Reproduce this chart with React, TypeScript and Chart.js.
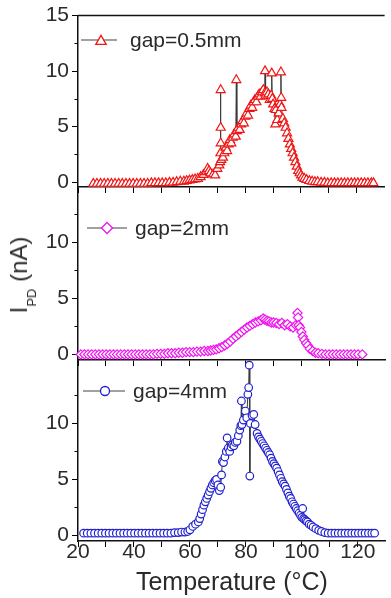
import React, { useEffect, useRef } from 'react';
import { Chart, registerables } from 'chart.js';

Chart.register(...registerables);

const FONT = "'Liberation Sans', Arial, sans-serif";
const TEXT = '#2a2a2a';

// axis ticks
const xTicks = [20, 30, 40, 50, 60, 70, 80, 90, 100, 110, 120];
const xLabels = [20, 40, 60, 80, 100, 120];
const yTicksTop = [0, 5, 10, 15];
const yTicksLower = [0, 5, 10];
const yMinorTicks = [2.5, 7.5, 12.5];

// gap = 0.5 mm (red triangles)
const gap05Temp = [
  25.5, 26.8, 28.1, 29.4, 30.7, 32, 33.3, 34.6, 35.9, 37.2,
  38.5, 39.8, 41.1, 42.4, 43.7, 45, 46.3, 47.6, 48.9, 50.2,
  51.5, 52.8, 54.1, 55.4, 56.7, 58, 59, 60, 61, 62,
  63, 64, 65, 66, 66.5, 67, 67.5, 68.5, 69.2, 70,
  70.7, 71, 71.1, 71.2, 71.2, 71.2, 71.4, 72, 72.5, 73,
  73.5, 74, 74.5, 75, 75.5, 76, 76.6, 76.8, 77, 77.5,
  78, 78.5, 79, 79.5, 80, 80.5, 81, 81.5, 82, 82.5,
  83, 83.5, 84, 84.5, 85, 85.5, 86, 86.5, 87, 87.1,
  87.3, 87.8, 88.3, 88.8, 89.3, 89.5, 89.7, 90, 90.5, 90.8,
  91, 91.5, 92, 92.5, 92.8, 92.9, 93, 93.5, 94, 94.5,
  95, 95.5, 96, 96.5, 97, 97.5, 98, 98.5, 99, 99.5,
  100, 100.5, 101.2, 102, 103, 104, 105, 106, 107.2, 108.4,
  109.6, 110.8, 112, 113.2, 114.4, 115.6, 116.8, 118, 119.2, 120.4,
  121.6, 122.8, 124, 125.2, 126,
];
const gap05Current = [
  -0.15, -0.15, -0.15, -0.15, -0.15, -0.15, -0.15, -0.15, -0.15, -0.15,
  -0.15, -0.15, -0.15, -0.15, -0.15, -0.15, -0.1, -0.1, -0.1, -0.1,
  -0.1, -0.05, -0.05, 0, 0.05, 0.05, 0.1, 0.15, 0.2, 0.25,
  0.3, 0.45, 0.65, 0.9, 1.2, 1.0, 0.8, 0.7, 0.6, 1.2,
  1.5, 1.8, 2.6, 8.3, 4.9, 3.5, 2.0, 2.2, 2.6, 3.1,
  2.8, 3.4, 3.8, 3.5, 4.0, 4.3, 4.1, 9.2, 4.6, 4.9,
  4.7, 5.2, 5.5, 5.3, 5.9, 6.2, 6.0, 6.6, 6.9, 6.7,
  7.2, 7.4, 7.2, 7.7, 7.9, 7.7, 8.1, 8.3, 8.0, 10.0,
  7.8, 8.1, 7.9, 7.4, 7.8, 9.8, 7.5, 7.0, 6.6, 5.2,
  6.5, 5.6, 6.2, 7.0, 9.9, 7.6, 6.7, 5.7, 5.3, 4.9,
  4.4, 3.9, 3.4, 3.0, 2.6, 2.2, 1.8, 1.4, 1.0, 0.8,
  0.6, 0.4, 0.3, 0.2, 0.1, 0.05, 0, 0, -0.05, -0.05,
  -0.1, -0.1, -0.1, -0.1, -0.1, -0.1, -0.1, -0.1, -0.1, -0.1,
  -0.1, -0.1, -0.1, -0.1, -0.1,
];

// gap = 2 mm (magenta diamonds)
const gap2Temp = [
  21, 22.3, 23.6, 24.9, 26.2, 27.5, 28.8, 30.1, 31.4, 32.7,
  34, 35.3, 36.6, 37.9, 39.2, 40.5, 41.8, 43.1, 44.4, 45.7,
  47, 48.3, 49.6, 50.9, 52.2, 53.5, 54.8, 56.1, 57.4, 58.7,
  60, 61.3, 62.6, 63.9, 65.2, 66.5, 67.5, 68.5, 69.5, 70.5,
  71.5, 72.5, 73.5, 74.5, 75.5, 76.5, 77.5, 78.5, 79.5, 80.5,
  81.5, 82.5, 83.5, 84.5, 85.5, 86.3, 87, 87.7, 88.4, 89.2,
  90, 91, 92, 93, 94, 95, 96, 97, 98, 98.6,
  98.8, 99, 99.5, 100, 100.5, 101, 101.7, 102.3, 103, 104,
  105, 106, 107.3, 108.6, 109.9, 111.2, 112.5, 113.8, 115.1, 116.4,
  117.7, 119, 120.3, 121.8,
];
const gap2Current = [
  0, 0, 0, 0, 0, 0, 0, 0, 0, 0,
  0, 0, 0, 0, 0, 0, 0, 0, 0, 0,
  0, 0.05, 0.05, 0.05, 0.1, 0.1, 0.1, 0.15, 0.15, 0.2,
  0.2, 0.2, 0.25, 0.25, 0.3, 0.3, 0.35, 0.4, 0.45, 0.55,
  0.65, 0.8, 0.95, 1.15, 1.4, 1.6, 1.8, 2.0, 2.2, 2.4,
  2.55, 2.7, 2.85, 2.95, 3.05, 3.2, 3.1, 3.0, 2.95, 2.85,
  2.85, 2.8, 2.7, 2.8, 2.6, 2.7, 2.5, 2.4, 2.6, 3.7,
  3.3, 2.6, 2.4, 2.0, 1.6, 1.3, 1.0, 0.8, 0.5, 0.3,
  0.15, 0.1, 0.05, 0, 0, 0, 0, 0, 0, 0,
  0, 0, 0, 0,
];

// gap = 4 mm (blue circles)
const gap4Temp = [
  22, 23.3, 24.6, 25.9, 27.2, 28.5, 29.8, 31.1, 32.4, 33.7,
  35, 36.3, 37.6, 38.9, 40.2, 41.5, 42.8, 44.1, 45.4, 46.7,
  48, 49.3, 50.6, 51.9, 53.2, 54.5, 55.8, 57, 58.2, 59.2,
  60, 61, 62, 63, 63.5, 64, 64.5, 65, 65.5, 66,
  66.5, 67, 67.5, 68, 68.5, 69, 69.5, 70, 70.5, 71,
  71.3, 71.6, 72, 72.5, 73, 73.3, 73.7, 74.2, 74.7, 75.2,
  75.7, 76.2, 76.8, 77.3, 77.8, 78.2, 78.4, 78.6, 79.1, 79.8,
  80.3, 80.7, 81, 81.2, 81.4, 81.6, 82.2, 82.8, 83.3, 84,
  84.5, 85, 85.5, 86, 86.5, 87, 87.5, 88, 88.5, 89,
  89.5, 90, 90.5, 91, 91.5, 92, 92.5, 93, 93.5, 94,
  94.5, 95, 95.5, 96, 96.5, 97, 97.5, 98, 98.5, 99,
  99.5, 100, 100.3, 100.6, 101, 101.5, 102, 102.6, 103.3, 104,
  105, 106, 107, 108.2, 109.4, 110.6, 111.8, 113, 114.2, 115.4,
  116.6, 117.8, 119, 120.2, 121.4, 122.6, 123.8, 125, 126,
];
const gap4Current = [
  0.2, 0.2, 0.2, 0.2, 0.2, 0.2, 0.2, 0.2, 0.2, 0.2,
  0.2, 0.2, 0.2, 0.2, 0.2, 0.2, 0.2, 0.2, 0.2, 0.2,
  0.2, 0.2, 0.2, 0.2, 0.2, 0.25, 0.25, 0.3, 0.3, 0.35,
  0.5, 0.8, 1.0, 1.2, 1.5, 1.9, 2.3, 2.7, 3.0, 3.3,
  3.6, 3.9, 4.2, 4.5, 4.7, 4.9, 5.0, 4.5, 4.0, 4.3,
  5.4, 6.6, 6.5, 7.0, 7.5, 8.7, 7.8, 7.5, 7.9, 8.1,
  8.0, 8.3, 8.4, 8.9, 9.4, 9.8, 12.0, 9.9, 10.3, 11.1,
  10.5, 12.6, 13.2, 15.2, 5.3, 10.0, 10.7, 10.8, 9.9, 9.1,
  8.8, 8.6, 8.4, 8.2, 8.0, 7.8, 7.6, 7.4, 7.2, 6.9,
  6.6, 6.4, 6.2, 6.0, 5.7, 5.4, 5.1, 4.8, 4.6, 4.4,
  4.1, 3.8, 3.5, 3.3, 3.0, 2.8, 2.6, 2.4, 2.2, 2.0,
  1.8, 1.6, 2.4, 1.5, 1.4, 1.3, 1.2, 1.0, 0.9, 0.75,
  0.6, 0.45, 0.35, 0.25, 0.2, 0.2, 0.2, 0.2, 0.2, 0.2,
  0.2, 0.2, 0.2, 0.2, 0.2, 0.2, 0.2, 0.2, 0.2,
];

function drawMarker(ctx: CanvasRenderingContext2D, style: string, x: number, y: number, r: number) {
  ctx.beginPath();
  if (style === 'triangle') {
    ctx.moveTo(x, y - r);
    ctx.lineTo(x + 0.866 * r, y + 0.5 * r);
    ctx.lineTo(x - 0.866 * r, y + 0.5 * r);
    ctx.closePath();
  } else if (style === 'rectRot') {
    ctx.moveTo(x - r, y);
    ctx.lineTo(x, y - r);
    ctx.lineTo(x + r, y);
    ctx.lineTo(x, y + r);
    ctx.closePath();
  } else {
    ctx.arc(x, y, r, 0, Math.PI * 2);
  }
  ctx.fill();
  ctx.stroke();
}

const decorPlugin = {
  id: 'decor',
  afterDraw(chart: any, _args: any, o: any) {
    const { ctx, chartArea, scales } = chart;
    ctx.save();
    ctx.strokeStyle = '#000';
    ctx.lineWidth = 1;
    for (const v of yMinorTicks) {
      const y = Math.round(scales.y.getPixelForValue(v)) + 0.5;
      if (y < chartArea.top || y > chartArea.bottom) continue;
      ctx.beginPath();
      ctx.moveTo(chartArea.left - 3.5, y);
      ctx.lineTo(chartArea.left, y);
      ctx.stroke();
    }
    if (o.topBorder) {
      ctx.lineWidth = 1.5;
      ctx.strokeStyle = '#111';
      ctx.beginPath();
      ctx.moveTo(chartArea.left, chartArea.top);
      ctx.lineTo(chartArea.right, chartArea.top);
      ctx.stroke();
    }
    const lg = o.legend;
    if (lg) {
      ctx.strokeStyle = '#444';
      ctx.lineWidth = 1.2;
      ctx.beginPath();
      ctx.moveTo(lg.x0, lg.y);
      ctx.lineTo(lg.x1, lg.y);
      ctx.stroke();
      ctx.strokeStyle = lg.color;
      ctx.fillStyle = '#fff';
      ctx.lineWidth = 1.3;
      drawMarker(ctx, lg.style, lg.mx, lg.style === 'triangle' ? lg.y + 1.4 : lg.y, lg.r);
      ctx.fillStyle = TEXT;
      ctx.font = `21px ${FONT}`;
      ctx.textBaseline = 'middle';
      ctx.textAlign = 'left';
      ctx.fillText(lg.text, lg.tx, lg.y + 1);
    }
    ctx.restore();
  },
};

interface PanelDef {
  temp: number[];
  current: number[];
  color: string;
  style: string;
  radius: number;
  padTop: number;
  padBottom: number;
  xHeight: number;
  yMin: number;
  yMax: number;
  yTicks: number[];
  showXLabels: boolean;
  topBorder: boolean;
  legend: any;
}

function buildChart(canvas: HTMLCanvasElement, p: PanelDef) {
  return new Chart(canvas, {
    type: 'scatter',
    data: {
      datasets: [
        {
          data: p.temp.map((t, i) => ({ x: t, y: p.current[i] })),
          showLine: true,
          borderColor: '#3a3a3a',
          borderWidth: 1,
          pointStyle: p.style as any,
          pointRadius: p.radius,
          pointBorderColor: p.color,
          pointBackgroundColor: '#ffffff',
          pointBorderWidth: 1.2,
          clip: false as any,
        },
      ],
    },
    options: {
      animation: false,
      responsive: false,
      devicePixelRatio: 1,
      events: [],
      layout: { padding: { top: p.padTop, bottom: p.padBottom, left: 0, right: 0 } },
      plugins: {
        legend: { display: false },
        tooltip: { enabled: false },
        decor: { topBorder: p.topBorder, legend: p.legend },
      } as any,
      scales: {
        x: {
          type: 'linear',
          min: 20,
          max: 130,
          afterBuildTicks: (s: any) => {
            s.ticks = xTicks.map((v) => ({ value: v }));
          },
          afterFit: (s: any) => {
            s.height = p.xHeight;
          },
          grid: { drawOnChartArea: false, drawTicks: true, tickLength: 6, color: '#000', lineWidth: 1 },
          border: { display: true, color: '#111', width: 1.5 },
          ticks: {
            display: p.showXLabels,
            autoSkip: false,
            maxRotation: 0,
            padding: -5,
            color: TEXT,
            font: { family: FONT, size: 21, lineHeight: 1 },
            callback: (v: any) => (xLabels.includes(Number(v)) ? String(v) : ''),
          },
          title: {
            display: p.showXLabels,
            text: 'Temperature (°C)',
            color: TEXT,
            font: { family: FONT, size: 25 },
            padding: { top: 0, bottom: 0 },
          },
        },
        y: {
          type: 'linear',
          min: p.yMin,
          max: p.yMax,
          afterBuildTicks: (s: any) => {
            s.ticks = p.yTicks.map((v) => ({ value: v }));
          },
          afterFit: (s: any) => {
            s.width = 78;
          },
          grid: { drawOnChartArea: false, drawTicks: true, tickLength: 6, color: '#000', lineWidth: 1 },
          border: { display: true, color: '#111', width: 1.5 },
          ticks: {
            padding: 3,
            color: TEXT,
            font: { family: FONT, size: 21 },
            callback: (v: any) => String(v),
          },
        },
      },
    } as any,
    plugins: [decorPlugin],
  });
}

export default function App() {
  const refA = useRef<HTMLCanvasElement>(null);
  const refB = useRef<HTMLCanvasElement>(null);
  const refC = useRef<HTMLCanvasElement>(null);

  useEffect(() => {
    const charts: Chart[] = [];
    if (refA.current) {
      charts.push(
        buildChart(refA.current, {
          temp: gap05Temp,
          current: gap05Current,
          color: '#f01414',
          style: 'triangle',
          radius: 5.2,
          padTop: 15,
          padBottom: 598 - 187 - 20,
          xHeight: 20,
          yMin: -0.45,
          yMax: 15,
          yTicks: yTicksTop,
          showXLabels: false,
          topBorder: true,
          legend: { x0: 81, x1: 117, mx: 101, y: 40, tx: 130, text: 'gap=0.5mm', style: 'triangle', r: 6, color: '#f01414' },
        })
      );
    }
    if (refB.current) {
      charts.push(
        buildChart(refB.current, {
          temp: gap2Temp,
          current: gap2Current,
          color: '#f014f0',
          style: 'rectRot',
          radius: 4.6,
          padTop: 187,
          padBottom: 598 - 360 - 20,
          xHeight: 20,
          yMin: -0.5,
          yMax: 14.95,
          yTicks: yTicksLower,
          showXLabels: false,
          topBorder: false,
          legend: { x0: 87, x1: 127, mx: 107, y: 228, tx: 135, text: 'gap=2mm', style: 'rectRot', r: 5.5, color: '#f014f0' },
        })
      );
    }
    if (refC.current) {
      charts.push(
        buildChart(refC.current, {
          temp: gap4Temp,
          current: gap4Current,
          color: '#2020d0',
          style: 'circle',
          radius: 3.8,
          padTop: 360,
          padBottom: 0,
          xHeight: 57,
          yMin: -0.5,
          yMax: 15.66,
          yTicks: yTicksLower,
          showXLabels: true,
          topBorder: false,
          legend: { x0: 83, x1: 125, mx: 105, y: 391, tx: 133, text: 'gap=4mm', style: 'circle', r: 4.5, color: '#2020d0' },
        })
      );
    }
    return () => {
      charts.forEach((c) => c.destroy());
    };
  }, []);

  const canvasStyle: React.CSSProperties = { position: 'absolute', left: 0, top: 0, width: 391, height: 598 };

  return (
    <div style={{ position: 'absolute', left: 0, top: 0, width: 391, height: 598, background: '#fff', overflow: 'hidden' }}>
      <canvas ref={refA} width={391} height={598} style={canvasStyle} />
      <canvas ref={refB} width={391} height={598} style={canvasStyle} />
      <canvas ref={refC} width={391} height={598} style={canvasStyle} />
      <div
        style={{
          position: 'absolute',
          left: 21,
          top: 275,
          transform: 'translate(-50%, -50%) rotate(-90deg)',
          fontFamily: FONT,
          fontSize: 24,
          lineHeight: '24px',
          whiteSpace: 'nowrap',
          color: TEXT,
        }}
      >
        I<span style={{ fontSize: 13, position: 'relative', top: 9 }}>PD</span> (nA)
      </div>
    </div>
  );
}
